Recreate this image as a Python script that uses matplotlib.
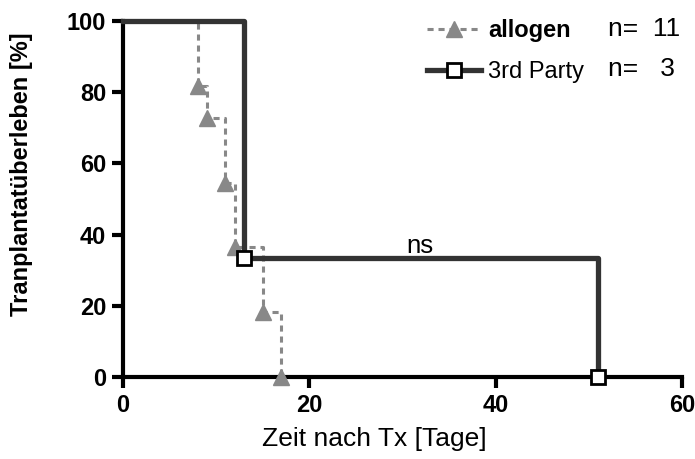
import matplotlib
matplotlib.use("Agg")
import matplotlib.pyplot as plt

plt.rcParams['font.family'] = ['Liberation Sans', 'DejaVu Sans']

# Data (Kaplan-Meier steps)
allo_days = [0, 8, 9, 11, 12, 15, 17]
allo_surv = [100, 81.8, 72.7, 54.5, 36.4, 18.2, 0]
third_days = [0, 13, 51]
third_surv = [100, 33.3, 0]
x_ticks = [0, 20, 40, 60]
y_ticks = [0, 20, 40, 60, 80, 100]
labels = ["allogen", "3rd Party"]
n_labels = ["n=  11", "n=   3"]

fig = plt.figure(figsize=(6.95, 4.59), dpi=100)
ax = fig.add_axes([0.177, 0.179, 0.804, 0.775])

grey = '#888888'
dark = '#333333'

# allogen
ax.plot(allo_days, allo_surv, drawstyle='steps-post', color=grey, lw=2.2,
        ls=(0, (2, 1.6)), clip_on=False, zorder=3)
ax.plot(allo_days[1:], allo_surv[1:], ls='none', marker='^', ms=11,
        color=grey, mec=grey, clip_on=False, zorder=3)
# 3rd party
ax.plot(third_days, third_surv, drawstyle='steps-post', color=dark, lw=3.8,
        clip_on=False, zorder=4)
ax.plot(third_days[1:], third_surv[1:], ls='none', marker='s', ms=10,
        mfc='white', mec='black', mew=2, clip_on=False, zorder=5)

# legend handles
h1, = ax.plot([], [], color=grey, lw=2.2, ls=(0, (2, 1.6)), marker='^', ms=11, mec=grey)
h2, = ax.plot([], [], color=dark, lw=3.8, marker='s', ms=10, mfc='white', mec='black', mew=2)
leg = ax.legend([h1, h2], labels, loc='upper left', bbox_to_anchor=(0.544, 1.005),
                frameon=False, fontsize=17, handlelength=2.3, handletextpad=0.3,
                labelspacing=0.8, borderaxespad=0, borderpad=0)
leg.get_texts()[0].set_fontweight('bold')

fig.text(0.875, 1 - 29 / 459, n_labels[0], fontsize=19, va='center', ha='left')
fig.text(0.875, 1 - 69 / 459, n_labels[1], fontsize=19, va='center', ha='left')

ax.text(31.9, 36.8, "ns", fontsize=18.5, ha='center', va='center')

ax.set_xlim(0, 60)
ax.set_ylim(0, 100)
ax.set_xticks(x_ticks)
ax.set_yticks(y_ticks)
for lab in ax.get_xticklabels() + ax.get_yticklabels():
    lab.set_fontweight('bold')
    lab.set_fontsize(17)
ax.tick_params(axis='both', direction='out', length=8, width=3, pad=4)
for s in ['top', 'right']:
    ax.spines[s].set_visible(False)
for s in ['left', 'bottom']:
    ax.spines[s].set_linewidth(3)

ax.set_xlabel("Zeit nach Tx [Tage]", fontsize=19)
ax.xaxis.set_label_coords(0.45, -0.14)
ax.set_ylabel("Tranplantatüberleben [%]", fontsize=17, fontweight='bold')
ax.yaxis.set_label_coords(-0.161, 0.57)

fig.savefig("out.png", dpi=100)
